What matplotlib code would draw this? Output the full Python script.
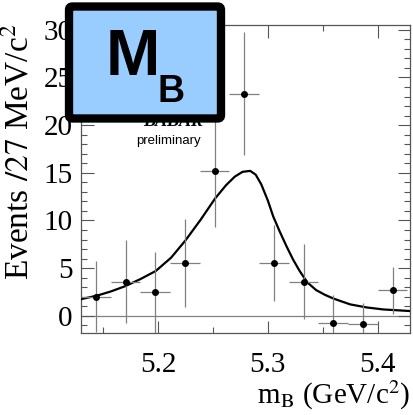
import matplotlib
matplotlib.use("Agg")
import matplotlib.pyplot as plt
from matplotlib.patches import FancyBboxPatch
from matplotlib.ticker import MultipleLocator

# binned data, 27 MeV bins
bin_centers = [5.1435, 5.1705, 5.1975, 5.2245, 5.2515, 5.2785,
               5.3055, 5.3325, 5.3595, 5.3865, 5.4135]
events = [2.0, 3.6, 2.45, 5.55, 15.2, 23.3, 5.55, 3.6, -0.8, -0.9, 2.66]
errors = [3.7, 4.4, 4.2, 4.65, 5.9, 6.45, 4.0, 3.95, 3.0, 2.26, 2.5]
half_bin = 0.0135

# fit curve
fit_x = [5.130, 5.144, 5.157, 5.170, 5.184, 5.198, 5.212, 5.225, 5.239,
         5.252, 5.262, 5.270, 5.277, 5.284, 5.289, 5.294, 5.300, 5.305,
         5.311, 5.317, 5.323, 5.329, 5.336, 5.344, 5.352, 5.360, 5.375,
         5.390, 5.405, 5.430]
fit_y = [1.75, 2.1, 2.55, 3.1, 3.85, 4.7, 6.1, 7.9, 10.1,
         12.3, 13.7, 14.6, 15.1, 15.2, 14.8, 13.8, 12.1, 10.4,
         8.8, 7.3, 5.9, 4.7, 3.5, 2.7, 2.2, 1.8, 1.2,
         0.88, 0.67, 0.5]

plt.rcParams["font.family"] = ["Liberation Serif", "DejaVu Serif"]
plt.rcParams["mathtext.fontset"] = "stix"

fig = plt.figure(figsize=(4.14, 4.15), dpi=100)
ax = fig.add_axes([0.1957, 0.1976, 0.7946, 0.7422])

ax.axhline(0, color="#808080", lw=0.9, zorder=1)
ax.plot(fit_x, fit_y, color="black", lw=1.6, zorder=3)
ax.errorbar(bin_centers, events, xerr=half_bin, yerr=errors, fmt="o",
            color="black", ms=4, ecolor="#808080", elinewidth=0.9,
            capsize=0, zorder=4)

ax.set_xlim(5.13, 5.4294)
ax.set_ylim(-1.8, 30.5)
ax.xaxis.set_major_locator(MultipleLocator(0.1))
ax.xaxis.set_minor_locator(MultipleLocator(0.05))
ax.yaxis.set_major_locator(MultipleLocator(5))
ax.yaxis.set_minor_locator(MultipleLocator(1))
ax.tick_params(which="both", direction="in", top=True, right=True,
               color="#555555", width=0.8, labelsize=21)
ax.tick_params(which="major", length=9)
ax.tick_params(which="minor", length=4.5)
ax.tick_params(axis="x", pad=14)
ax.tick_params(axis="y", pad=6)
for s in ax.spines.values():
    s.set_color("#555555")
    s.set_linewidth(0.9)

ax.set_ylabel(r"Events $\mathit{/27}$ MeV/c$^2$", fontsize=24)
ax.yaxis.set_label_coords(-0.14, 0.589)
ax.set_xlabel(r"m$_{\rm B}$ (GeV/c$^2$)", fontsize=21, ha="right", x=1.0,
              labelpad=0)

# BaBar logo, partly hidden by the box
fig.text(0.49, 0.696, "BABAR", fontsize=13, fontweight="bold",
         fontstyle="italic", ha="right", va="baseline")
fig.text(0.485, 0.654, "preliminary", fontsize=9.5,
         family=["Liberation Sans"], ha="right", va="baseline")

box = FancyBboxPatch((0.1667, 0.7145), 0.3671, 0.2698,
                     boxstyle="round,pad=0,rounding_size=0.008",
                     transform=fig.transFigure, facecolor="#99ccff",
                     edgecolor="black", linewidth=6, zorder=10)
fig.patches.append(box)
fig.text(0.322, 0.8193, "M", fontsize=47, fontweight="bold",
         family=["Liberation Sans"], ha="center", va="baseline", zorder=11)
fig.text(0.380, 0.7542, "B", fontsize=27, fontweight="bold",
         family=["Liberation Sans"], ha="left", va="baseline", zorder=11)

fig.savefig("out.png", dpi=100)
